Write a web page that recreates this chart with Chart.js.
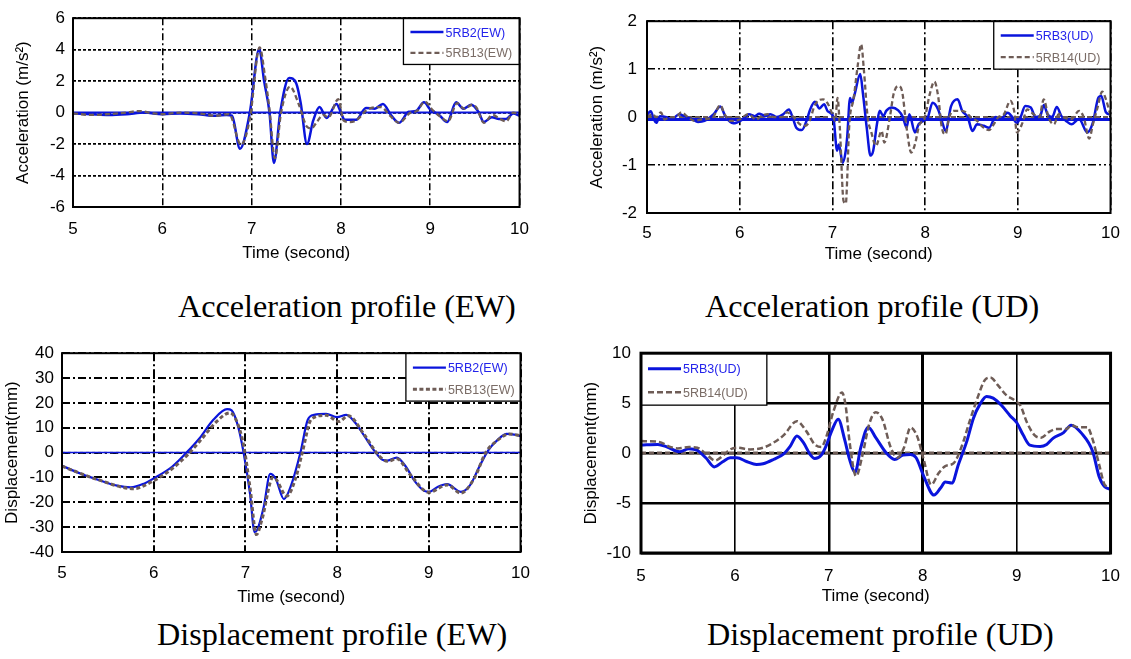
<!DOCTYPE html>
<html>
<head>
<meta charset="utf-8">
<script src="https://cdn.jsdelivr.net/npm/chart.js@4.4.1/dist/chart.umd.min.js"></script>
<style>
  body { margin: 0; background: #fff; width: 1131px; height: 659px; position: relative; overflow: hidden; }
  canvas { position: absolute; }
  .cap { position: absolute; font-family: "Liberation Serif", "Times New Roman", serif; font-size: 32.2px; line-height: 32.2px; white-space: nowrap; color: #000; }
</style>
</head>
<body>
<canvas id="accEW"></canvas>
<canvas id="accUD"></canvas>
<canvas id="dispEW"></canvas>
<canvas id="dispUD"></canvas>
<div class="cap" style="left:178px;top:289.5px">Acceleration profile (EW)</div>
<div class="cap" style="left:705px;top:289.5px">Acceleration profile (UD)</div>
<div class="cap" style="left:157px;top:618px">Displacement profile (EW)</div>
<div class="cap" style="left:707px;top:618px">Displacement profile (UD)</div>
<script>
// --- datos (tiempo en segundos) ---
const zeroT = [5, 10];

// Aceleracion EW
const accEW_tRB2 = [5.0,5.2,5.4,5.6,5.8,6.0,6.2,6.4,6.6,6.72,6.78,6.87,6.98,7.085,7.14,7.2,7.25,7.32,7.42,7.5,7.55,7.62,7.69,7.76,7.84,7.95,8.0,8.04,8.17,8.28,8.38,8.47,8.56,8.65,8.76,8.84,8.93,9.0,9.1,9.19,9.29,9.37,9.46,9.54,9.6,9.69,9.77,9.85,9.93,10.0];
const accEW_RB2  = [-0.05,-0.1,-0.15,-0.1,0,-0.1,-0.05,-0.1,-0.2,-0.15,-0.2,-2.3,0,4.05,2.0,0,-3.2,0,2.2,1.85,0.6,-2.0,-0.5,0.35,-0.35,0.55,0,-0.45,-0.45,0.3,0.25,0.55,-0.15,-0.65,0.05,0.1,0.65,0.2,-0.15,-0.6,0.65,0.25,0.5,0.05,-0.6,-0.3,-0.4,-0.4,-0.05,-0.2];
const accEW_tRB13 = [5.0,5.2,5.4,5.6,5.74,5.9,6.0,6.2,6.4,6.6,6.75,6.88,6.98,7.09,7.15,7.2,7.26,7.33,7.43,7.53,7.62,7.67,7.73,7.8,7.86,7.97,8.03,8.1,8.17,8.3,8.45,8.55,8.65,8.78,8.85,8.94,9.02,9.1,9.2,9.3,9.38,9.47,9.52,9.6,9.7,9.78,9.85,9.93,10.0];
const accEW_RB13  = [-0.05,-0.15,-0.1,0,0.1,-0.05,-0.1,0,-0.05,-0.2,-0.1,-2.05,-0.4,4.15,2.3,0.2,-2.9,0,1.65,0.5,-0.9,-1.0,-0.6,-0.15,-0.3,0.85,-0.5,-0.6,-0.5,0.2,0.35,-0.2,-0.65,0,0.1,0.7,0.2,-0.2,-0.55,0.6,0.25,0.5,0.3,-0.65,-0.15,-0.4,-0.55,0,-0.15];

// Aceleracion UD
const accUD_tRB3 = [5.0,5.04,5.075,5.1,5.14,5.21,5.26,5.35,5.4,5.49,5.55,5.62,5.72,5.79,5.85,5.93,6.03,6.1,6.16,6.21,6.28,6.33,6.4,6.47,6.53,6.57,6.61,6.67,6.72,6.76,6.81,6.86,6.91,6.95,7.01,7.05,7.07,7.11,7.14,7.16,7.19,7.21,7.24,7.3,7.33,7.37,7.41,7.44,7.48,7.51,7.55,7.58,7.64,7.71,7.76,7.8,7.83,7.89,7.93,7.98,8.03,8.08,8.14,8.19,8.22,8.28,8.35,8.4,8.46,8.51,8.56,8.63,8.69,8.76,8.81,8.89,8.94,8.99,9.03,9.08,9.14,9.19,9.24,9.28,9.32,9.37,9.42,9.47,9.52,9.58,9.66,9.75,9.81,9.87,9.9,9.95,10.0];
const accUD_RB3  = [0.05,0.12,-0.05,-0.12,0.02,0,-0.05,0.06,0.02,-0.05,-0.1,-0.08,0.06,0.22,0,-0.13,-0.05,0.06,0.02,0.07,0.02,0.06,0,0.06,0.16,0,-0.22,-0.27,-0.08,0.16,0.32,0.18,0.27,0.12,0,-0.7,-0.57,-0.95,-0.75,-0.4,0.4,0.3,0.48,0.9,0.48,-0.22,-0.8,-0.7,-0.15,0.13,0.02,0.13,0.2,0.14,0,-0.22,0.06,-0.32,-0.15,-0.08,0,0.3,0.16,-0.14,-0.29,0.23,0.37,0.13,0,-0.29,-0.15,-0.18,-0.22,0,-0.05,0.09,0,-0.12,0,0.23,0.2,0,0.02,0.25,0.06,0,0.21,0.02,-0.08,-0.15,-0.04,-0.32,-0.11,0.41,0.44,0.1,0.05];
const accUD_tRB14 = [5.0,5.06,5.1,5.15,5.19,5.24,5.31,5.37,5.44,5.51,5.58,5.71,5.79,5.84,5.9,6.0,6.09,6.18,6.23,6.3,6.37,6.46,6.51,6.58,6.65,6.71,6.76,6.8,6.85,6.9,6.95,7.0,7.03,7.055,7.08,7.12,7.145,7.16,7.18,7.23,7.27,7.31,7.34,7.38,7.42,7.47,7.53,7.56,7.62,7.66,7.71,7.75,7.8,7.85,7.89,7.94,7.99,8.05,8.1,8.14,8.18,8.22,8.26,8.31,8.38,8.44,8.49,8.56,8.63,8.69,8.74,8.79,8.85,8.92,8.96,8.99,9.05,9.1,9.17,9.23,9.28,9.33,9.39,9.44,9.49,9.58,9.66,9.71,9.77,9.81,9.86,9.91,9.95,10.0];
const accUD_RB14  = [0,0.06,0,0.1,-0.05,0,0,0.1,0,-0.08,-0.05,0,0.25,0.05,-0.08,-0.05,0.06,-0.05,0.02,0.06,0,0,0.1,0,-0.15,-0.18,-0.05,0.2,0.35,0.37,0.28,0.06,-0.08,0.4,-0.22,-1.75,-1.8,-1.26,-0.22,0.4,1.03,1.52,0.97,0,-0.32,-0.6,-0.29,-0.53,0,0.48,0.65,0.55,-0.22,-0.74,-0.57,-0.15,-0.05,0.48,0.74,0.44,-0.22,-0.36,0,0.13,0.13,0.1,0,-0.08,-0.22,-0.27,-0.15,0,0.06,0.34,0.13,-0.32,-0.12,0.16,0.06,0,0.37,0,-0.15,0.06,0,-0.04,0.13,0,-0.45,-0.15,0.2,0.53,0.37,0.03];

// Desplazamiento EW
const dispEW_tRB2 = [5.0,5.2,5.4,5.6,5.75,5.9,6.0,6.2,6.35,6.5,6.65,6.8,6.85,6.92,6.98,7.05,7.1,7.13,7.2,7.27,7.33,7.42,7.5,7.6,7.68,7.75,7.88,8.0,8.1,8.2,8.3,8.4,8.5,8.55,8.65,8.75,8.85,8.95,9.0,9.1,9.2,9.35,9.45,9.55,9.65,9.75,9.85,9.95,10.0];
const dispEW_RB2  = [-5.3,-8.4,-11,-13.3,-14,-12.4,-10.4,-5.7,-0.3,5.8,13.2,17.5,17,10.5,0,-16.5,-32,-31,-21.8,-8.6,-10.5,-18.7,-13,0,13.2,15.2,15.6,14.3,15.2,11.9,6.5,1,-3,-3.2,-2,-5.7,-11.7,-15.4,-15.8,-13.7,-12.7,-15.8,-13.1,-5.7,1,5.1,7.5,7.1,6.7];
const dispEW_tRB13 = [5.0,5.4,5.78,6.0,6.2,6.38,6.5,6.7,6.83,6.9,6.98,7.05,7.12,7.18,7.3,7.33,7.45,7.55,7.62,7.72,7.88,8.02,8.12,8.3,8.45,8.55,8.65,8.8,9.0,9.2,9.35,9.5,9.62,9.75,9.88,10.0];
const dispEW_RB13  = [-5.5,-11,-14.5,-11.3,-6.5,-0.5,4.5,13,16,13,3,-14,-33,-27,-10,-10.5,-17.5,-10,0,13.5,15,12.5,14.8,7,-1,-3.5,-2.5,-9,-16,-13,-16.3,-10,0,5,7.5,6.8];

// Desplazamiento UD
const dispUD_tRB3 = [5.0,5.18,5.28,5.41,5.51,5.6,5.69,5.78,5.87,5.95,6.02,6.13,6.23,6.3,6.41,6.52,6.59,6.66,6.73,6.8,6.85,6.92,6.97,7.03,7.1,7.17,7.22,7.28,7.34,7.42,7.5,7.61,7.7,7.79,7.87,7.93,8.01,8.12,8.19,8.24,8.31,8.38,8.47,8.54,8.61,8.68,8.75,8.84,8.93,9.0,9.07,9.14,9.25,9.32,9.39,9.5,9.58,9.69,9.81,9.88,9.94,10.0];
const dispUD_RB3  = [0.8,0.87,0.6,0.13,0.44,0.27,-0.47,-1.38,-0.87,-0.47,-0.47,-0.87,-1.14,-1.07,-0.64,-0.07,0.7,1.71,1.04,-0.13,-0.54,-0.2,0.7,2.2,3.4,1.3,-0.6,-1.9,0.54,2.6,1.55,0.03,-0.64,-0.2,-0.13,-0.47,-2.3,-4.2,-3.5,-2.9,-3.0,-1.14,1.2,3.5,4.9,5.67,5.5,4.76,3.75,3.06,1.8,0.8,0.67,0.87,1.5,2.05,2.8,2.0,0.17,-2.4,-3.4,-3.6];
const dispUD_tRB14 = [5.0,5.18,5.32,5.39,5.51,5.6,5.69,5.79,5.88,5.95,6.02,6.16,6.3,6.41,6.52,6.66,6.76,6.85,6.92,6.97,7.05,7.14,7.18,7.22,7.29,7.36,7.43,7.5,7.57,7.66,7.73,7.8,7.87,7.94,8.01,8.09,8.17,8.24,8.33,8.41,8.5,8.59,8.66,8.72,8.8,8.89,8.98,9.04,9.11,9.19,9.26,9.35,9.42,9.53,9.58,9.65,9.75,9.81,9.88,9.94,10.0];
const dispUD_RB14  = [1.2,1.14,0.6,0.47,0.6,0.54,-0.07,-0.74,-0.2,0.37,0.54,0.37,0.54,1.04,1.8,3.2,2.2,0.87,0.6,1.54,4.2,6.07,4.7,1.2,-2.3,-0.13,2.9,4.1,3.4,0.54,-0.47,0.54,2.56,1.7,-0.64,-3.16,-2.0,-1.3,-1.0,0.54,3.2,5.7,7.3,7.56,6.8,5.8,5.27,4.76,3.06,1.8,1.54,2.15,2.4,2.4,2.8,2.6,2.6,1.35,-1.2,-3.2,-3.4];

// --- estilo ---
const AZUL = 'rgb(10,20,220)';
const CAFE = 'rgb(110,92,86)';
const TXT_AZUL = 'rgb(35,35,235)';
const TXT_CAFE = 'rgb(122,108,102)';
const SANS = '"Liberation Sans", Arial, sans-serif';

const pts = (t, v) => t.map((x, i) => ({ x: x, y: v[i] }));

// marco del area de la grafica y leyenda dentro de ella
const marcoYLeyenda = {
  id: 'marcoYLeyenda',
  afterDatasetsDraw(chart, args, opts) {
    const { ctx, chartArea: a } = chart;
    const w = a.right - a.left, h = a.bottom - a.top;
    ctx.save();
    const b = opts.box;
    const x0 = a.left + b[0] * w, x1 = a.left + b[1] * w;
    const y0 = a.top + b[2] * h, y1 = a.top + b[3] * h;
    ctx.fillStyle = '#fff';
    ctx.fillRect(x0, y0, x1 - x0, y1 - y0);
    ctx.strokeStyle = '#000';
    ctx.lineWidth = 1.3;
    ctx.strokeRect(x0, y0, x1 - x0, y1 - y0);
    const items = chart.data.datasets.filter(d => d.label);
    ctx.font = '12.5px ' + SANS;
    ctx.textBaseline = 'middle';
    items.forEach((d, i) => {
      const yy = y0 + (y1 - y0) * (0.3 + i * 0.45);
      ctx.strokeStyle = d.borderColor;
      ctx.lineWidth = d.borderWidth;
      ctx.setLineDash(d.borderDash || []);
      ctx.beginPath();
      ctx.moveTo(x0 + 7, yy);
      ctx.lineTo(x0 + 40, yy);
      ctx.stroke();
      ctx.setLineDash([]);
      ctx.fillStyle = d.txtColor;
      ctx.fillText(d.label, x0 + 42, yy + 1);
    });
    ctx.strokeStyle = '#000';
    ctx.lineWidth = opts.frame;
    ctx.strokeRect(a.left, a.top, w, h);
    ctx.restore();
  }
};

function configuracion(cfg) {
  const font = { family: SANS, size: 17 };
  return {
    type: 'line',
    data: { datasets: cfg.series() },
    options: {
      responsive: false,
      animation: false,
      layout: { padding: { top: 12, right: 14, left: 0, bottom: 0 } },
      elements: { point: { radius: 0 }, line: { cubicInterpolationMode: 'monotone' } },
      plugins: {
        legend: { display: false },
        tooltip: { enabled: false },
        marcoYLeyenda: { box: cfg.legendBox, frame: cfg.frame }
      },
      scales: {
        x: {
          type: 'linear', min: 5, max: 10,
          ticks: { stepSize: 1, color: '#000', font: font, padding: cfg.xPad, maxRotation: 0, autoSkip: false },
          grid: { color: '#000', lineWidth: cfg.gx.w, drawTicks: false },
          border: { display: false, dash: cfg.gx.dash },
          title: { display: true, text: 'Time (second)', color: '#000', font: font, padding: 0 },
          afterFit: s => { s.height = cfg.xH; }
        },
        y: {
          min: cfg.yMin, max: cfg.yMax,
          ticks: { stepSize: cfg.yStep, color: '#000', font: font, padding: cfg.yPad },
          grid: { color: '#000', lineWidth: cfg.gy.w, drawTicks: false },
          border: { display: false, dash: cfg.gy.dash },
          title: { display: true, text: cfg.yTitle, color: '#000', font: font, padding: 0 },
          afterFit: s => { s.width = cfg.yW; }
        }
      }
    },
    plugins: [marcoYLeyenda]
  };
}

// crea la grafica y ajusta el canvas para que el area quede donde esta en la figura
function panel(id, cfg) {
  const a = cfg.area;
  const cv = document.getElementById(id);
  let w = Math.round(a.r - a.l + cfg.yW + 14);
  let h = Math.round(a.b - a.t + 12 + cfg.xH);
  cv.width = w; cv.height = h;
  let chart = new Chart(cv, configuracion(cfg));
  let ca = chart.chartArea;
  w += Math.round((a.r - a.l) - (ca.right - ca.left));
  h += Math.round((a.b - a.t) - (ca.bottom - ca.top));
  chart.destroy();
  cv.style.width = ''; cv.style.height = '';
  cv.width = w; cv.height = h;
  chart = new Chart(cv, configuracion(cfg));
  ca = chart.chartArea;
  cv.style.left = (a.l - ca.left) + 'px';
  cv.style.top = (a.t - ca.top) + 'px';
}

function serie(label, t, v, color, width, dash, txt, order) {
  return { label: label, data: pts(t, v), borderColor: color, borderWidth: width,
           borderDash: dash, txtColor: txt, order: order, fill: false };
}
function base(value, color, width, dash) {
  return { data: pts(zeroT, zeroT.map(() => value)), borderColor: color, borderWidth: width,
           borderDash: dash, order: 5, fill: false, cubicInterpolationMode: 'default', tension: 0 };
}

panel('accEW', {
  area: { l: 73, t: 18.5, r: 520, b: 207.5 }, yW: 60, xH: 57, xPad: 12, yPad: 8,
  yMin: -6, yMax: 6, yStep: 2, yTitle: 'Acceleration (m/s²)', frame: 2,
  gx: { w: 1.5, dash: [7, 3, 2, 3] }, gy: { w: 1.8, dash: [3, 2] },
  legendBox: [0.74, 1, 0, 0.245],
  series: () => [
    serie('5RB2(EW)', accEW_tRB2, accEW_RB2, AZUL, 2.5, [], TXT_AZUL, 1),
    serie('5RB13(EW)', accEW_tRB13, accEW_RB13, CAFE, 2.3, [5, 3], TXT_CAFE, 0),
    base(0, AZUL, 2, [])
  ]
});

panel('accUD', {
  area: { l: 647, t: 21.5, r: 1111, b: 213 }, yW: 60, xH: 52, xPad: 10, yPad: 10,
  yMin: -2, yMax: 2, yStep: 1, yTitle: 'Acceleration (m/s²)', frame: 2,
  gx: { w: 1.6, dash: [8, 3, 2, 3] }, gy: { w: 1.6, dash: [8, 3, 2, 3, 2, 3] },
  legendBox: [0.748, 1, 0, 0.25],
  series: () => [
    serie('5RB3(UD)', accUD_tRB3, accUD_RB3, AZUL, 2.5, [], TXT_AZUL, 1),
    serie('5RB14(UD)', accUD_tRB14, accUD_RB14, CAFE, 2.3, [5, 3], TXT_CAFE, 0),
    base(-0.05, AZUL, 3, []),
    base(0, CAFE, 2, [5, 3])
  ]
});

panel('dispEW', {
  area: { l: 62, t: 353.5, r: 521, b: 552 }, yW: 60, xH: 56, xPad: 11, yPad: 8,
  yMin: -40, yMax: 40, yStep: 10, yTitle: 'Displacement(mm)', frame: 2,
  gx: { w: 2, dash: [8, 3, 2, 3] }, gy: { w: 2, dash: [8, 3, 2, 3] },
  legendBox: [0.75, 1, 0, 0.241],
  series: () => [
    serie('5RB2(EW)', dispEW_tRB2, dispEW_RB2, AZUL, 2.2, [], TXT_AZUL, 1),
    serie('5RB13(EW)', dispEW_tRB13, dispEW_RB13, CAFE, 3, [4, 2.5], TXT_CAFE, 0),
    base(0, AZUL, 1.5, []),
    base(0, CAFE, 1.5, [3, 3])
  ]
});

panel('dispUD', {
  area: { l: 641, t: 353.5, r: 1111, b: 553 }, yW: 60, xH: 54, xPad: 13, yPad: 10,
  yMin: -10, yMax: 10, yStep: 5, yTitle: 'Displacement(mm)', frame: 3,
  gx: { w: c => (c.tick && c.tick.value === 8 ? 3 : c.tick && c.tick.value === 7 ? 2.5 : 1.6), dash: [] },
  gy: { w: 2.5, dash: [] },
  legendBox: [0, 0.268, 0, 0.26],
  series: () => [
    serie('5RB3(UD)', dispUD_tRB3, dispUD_RB3, AZUL, 3, [], TXT_AZUL, 1),
    serie('5RB14(UD)', dispUD_tRB14, dispUD_RB14, CAFE, 2.5, [6, 3], TXT_CAFE, 0),
    base(0, CAFE, 3, [5, 3])
  ]
});
</script>
</body>
</html>
